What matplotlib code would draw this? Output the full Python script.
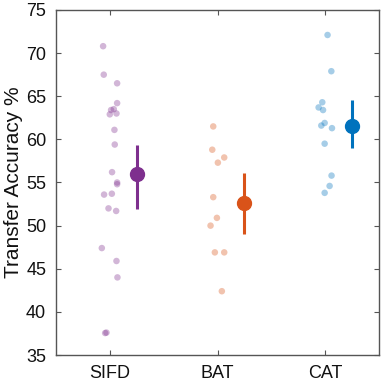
import matplotlib
matplotlib.use("Agg")
import matplotlib.pyplot as plt
import numpy as np

plt.rcParams['font.family'] = ['Liberation Sans', 'DejaVu Sans']

categories = ["SIFD", "BAT", "CAT"]
colors = ["#7E2F8E", "#D95319", "#0072BD"]

sifd_vals = [70.8, 67.5, 66.5, 64.2, 63.4, 63.5, 62.9, 63.0, 61.1, 59.4, 56.2, 55.0, 54.8,
             53.6, 53.7, 52.0, 51.7, 47.4, 45.9, 44.0, 37.55, 37.6]
sifd_jit = [-0.062, -0.056, 0.068, 0.068, 0.012, 0.037, 0.0, 0.062, 0.043, 0.046, 0.021, 0.068, 0.068,
            -0.053, 0.019, -0.012, 0.059, -0.074, 0.062, 0.071, -0.043, -0.031]
bat_vals = [61.5, 58.8, 57.9, 57.3, 53.3, 50.9, 50.0, 46.9, 46.9, 42.4]
bat_jit = [-0.04, -0.049, 0.062, 0.003, -0.04, -0.006, -0.065, -0.025, 0.062, 0.04]
cat_vals = [72.1, 67.9, 64.3, 63.7, 63.4, 61.9, 61.6, 61.3, 59.5, 55.8, 54.6, 53.8]
cat_jit = [0.021, 0.056, -0.028, -0.062, -0.021, -0.006, -0.037, 0.062, -0.006, 0.058, 0.04, -0.006]

means = [56.0, 52.6, 61.6]
err_low = [51.9, 49.0, 59.0]
err_high = [59.35, 56.1, 64.6]

fig = plt.figure(figsize=(3.83, 3.83), dpi=100)
ax = fig.add_axes([0.146, 0.073, 0.844, 0.901])

groups = [(sifd_vals, sifd_jit), (bat_vals, bat_jit), (cat_vals, cat_jit)]
for i, ((vals, jit), c) in enumerate(zip(groups, colors)):
    x = i + 1
    ax.scatter(np.array(jit) + x, vals, s=22, color=c, alpha=0.35, edgecolors='none', zorder=2)
    ax.vlines(x + 0.25, err_low[i], err_high[i], color=c, lw=2.2, zorder=3)
    ax.plot([x + 0.25], [means[i]], 'o', color=c, ms=10, zorder=4)

ax.set_xlim(0.5, 3.5)
ax.set_ylim(35, 75)
ax.set_xticks([1, 2, 3])
ax.set_xticklabels(categories)
ax.set_yticks(np.arange(35, 76, 5))
ax.set_ylabel("Transfer Accuracy %", fontsize=15, color='#111111')
ax.yaxis.set_label_coords(-0.102, 0.5)
ax.tick_params(direction='in', top=True, right=True, length=3.5, width=0.8,
               labelsize=13, color='#555555', labelcolor='#111111', pad=7)
for s in ax.spines.values():
    s.set_color('#555555')
    s.set_linewidth(1.0)

fig.savefig("out.png", dpi=100)
